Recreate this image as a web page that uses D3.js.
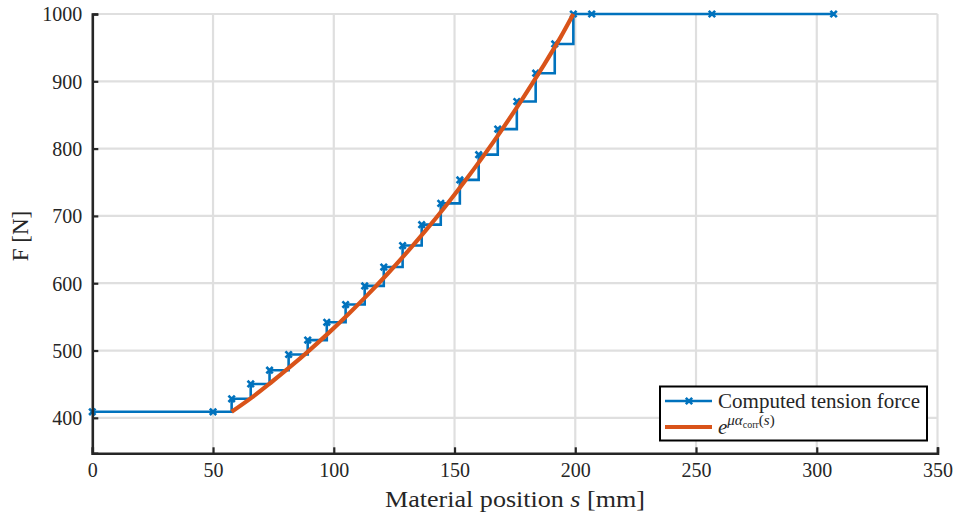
<!DOCTYPE html>
<html>
<head>
<meta charset="utf-8">
<script src="https://cdn.jsdelivr.net/npm/d3@7"></script>
<style>
  body { margin: 0; background: #fff; }
  text { font-family: "Liberation Serif", "DejaVu Serif", serif; fill: #262626; }
</style>
</head>
<body>
<svg id="chart" width="961" height="521"></svg>
<script>
// Axis ticks
const xTicks = [0, 50, 100, 150, 200, 250, 300, 350];
const yTicks = [400, 500, 600, 700, 800, 900, 1000];

// Computed tension force (stepwise, evaluated at discrete material positions)
const tensionS = [0, 50, 57.7, 65.6, 73.4, 81.3, 89.2, 97.1, 104.9, 112.8, 120.7, 128.5,
                  136.4, 144.3, 152.2, 160.0, 167.9, 175.8, 183.6, 191.5, 199.2, 206.8, 256.6, 307.0];
const tensionF = [409, 409, 428.3, 450.3, 470.8, 494.1, 515.5, 542.0, 568.3, 596.0, 624.0, 656.0,
                  687.0, 718.6, 753.5, 791.0, 829.0, 870.0, 912.0, 955.5, 1000, 1000, 1000, 1000];

// Capstan-type model e^{mu*alpha_corr(s)}
const modelS = [57.7, 66, 74, 82, 90, 98, 106, 114, 122, 130, 138, 146, 154, 162, 170, 178, 186, 194, 199.2];
const modelF = [409, 430, 452.5, 476, 500.7, 526.6, 554, 582.7, 612.9, 644.7, 678.1, 713.3,
                750.3, 789.2, 830.1, 873.2, 918.5, 966, 1000];

const blue = "#0072BD", orange = "#D95319", axisCol = "#262626", gridCol = "#dfdfdf";

const svg = d3.select("#chart");
const x = d3.scaleLinear().domain([0, 350]).range([92.3, 937.5]);
const y = d3.scaleLinear().domain([347.3, 1000]).range([453.3, 14]);

// Grid
const grid = svg.append("g");
grid.selectAll("line.gx").data(xTicks.filter(d => d > 0)).join("line")
  .attr("x1", d => x(d)).attr("x2", d => x(d))
  .attr("y1", y.range()[0]).attr("y2", y.range()[1])
  .attr("stroke", gridCol).attr("stroke-width", 2.2);
grid.selectAll("line.gy").data(yTicks).join("line")
  .attr("y1", d => y(d)).attr("y2", d => y(d))
  .attr("x1", x.range()[0]).attr("x2", x.range()[1])
  .attr("stroke", gridCol).attr("stroke-width", 2.2);

// Axes
const xAxis = d3.axisBottom(x).tickValues(xTicks).tickSize(-6).tickPadding(10).tickFormat(d3.format("d"));
const yAxis = d3.axisLeft(y).tickValues(yTicks).tickSize(-6).tickPadding(10).tickFormat(d3.format("d"));

// Data: tension force as a step function
const tension = tensionS.map((s, i) => [s, tensionF[i]]);
const model = modelS.map((s, i) => [s, modelF[i]]);

const stepLine = d3.line().x(d => x(d[0])).y(d => y(d[1])).curve(d3.curveStepAfter);
svg.append("path").datum(tension)
  .attr("d", stepLine)
  .attr("fill", "none").attr("stroke", blue).attr("stroke-width", 2.6);

const mk = 3.2;
const cross = (cx, cy) =>
  `M${cx - mk},${cy - mk}L${cx + mk},${cy + mk}M${cx - mk},${cy + mk}L${cx + mk},${cy - mk}`;
svg.append("g").selectAll("path").data(tension).join("path")
  .attr("d", d => cross(x(d[0]), y(d[1])))
  .attr("stroke", blue).attr("stroke-width", 2.6).attr("fill", "none");

const modelLine = d3.line().x(d => x(d[0])).y(d => y(d[1])).curve(d3.curveMonotoneX);
svg.append("path").datum(model)
  .attr("d", modelLine)
  .attr("fill", "none").attr("stroke", orange).attr("stroke-width", 4.2);

// Axis lines drawn above data
const gx = svg.append("g").attr("transform", `translate(0,${y.range()[0]})`).call(xAxis);
const gy = svg.append("g").attr("transform", `translate(${x.range()[0]},0)`).call(yAxis);
[gx, gy].forEach(g => {
  g.select(".domain").attr("stroke", axisCol).attr("stroke-width", 2.6);
  g.selectAll(".tick line").attr("stroke", axisCol).attr("stroke-width", 2.2);
  g.selectAll(".tick text").attr("font-size", 20).attr("fill", axisCol)
    .style("font-family", '"Liberation Serif", serif');
});
gy.selectAll(".tick text").attr("dy", "0.34em");

// Axis titles
const xt = svg.append("text").attr("x", 385).attr("y", 507)
  .attr("font-size", 23).attr("textLength", 260).attr("lengthAdjust", "spacingAndGlyphs");
xt.append("tspan").text("Material position ");
xt.append("tspan").attr("font-style", "italic").text("s");
xt.append("tspan").text(" [mm]");

svg.append("text").attr("transform", "translate(28,236) rotate(-90)")
  .attr("text-anchor", "middle").attr("font-size", 23).text("F [N]");

// Legend
const lg = svg.append("g");
lg.append("rect").attr("x", 660).attr("y", 386.5).attr("width", 267).attr("height", 54)
  .attr("fill", "#fff").attr("stroke", "#000").attr("stroke-width", 2);
lg.append("line").attr("x1", 665).attr("x2", 712).attr("y1", 401).attr("y2", 401)
  .attr("stroke", blue).attr("stroke-width", 2.6);
lg.append("path").attr("d", cross(689, 401))
  .attr("stroke", blue).attr("stroke-width", 2.6);
lg.append("text").attr("x", 718).attr("y", 408).attr("font-size", 21)
  .attr("textLength", 202).attr("lengthAdjust", "spacingAndGlyphs").text("Computed tension force");
lg.append("line").attr("x1", 665).attr("x2", 712).attr("y1", 427).attr("y2", 427)
  .attr("stroke", orange).attr("stroke-width", 4.2);
const le = lg.append("text").attr("x", 718).attr("y", 434).attr("font-size", 21);
le.append("tspan").attr("font-style", "italic").text("e");
le.append("tspan").attr("font-style", "italic").attr("font-size", 15).attr("dy", -9).text("μα");
le.append("tspan").attr("font-size", 10).attr("dy", 3).text("corr");
le.append("tspan").attr("font-size", 15).attr("dy", -3).text("(");
le.append("tspan").attr("font-size", 15).attr("font-style", "italic").text("s");
le.append("tspan").attr("font-size", 15).text(")");
</script>
</body>
</html>
